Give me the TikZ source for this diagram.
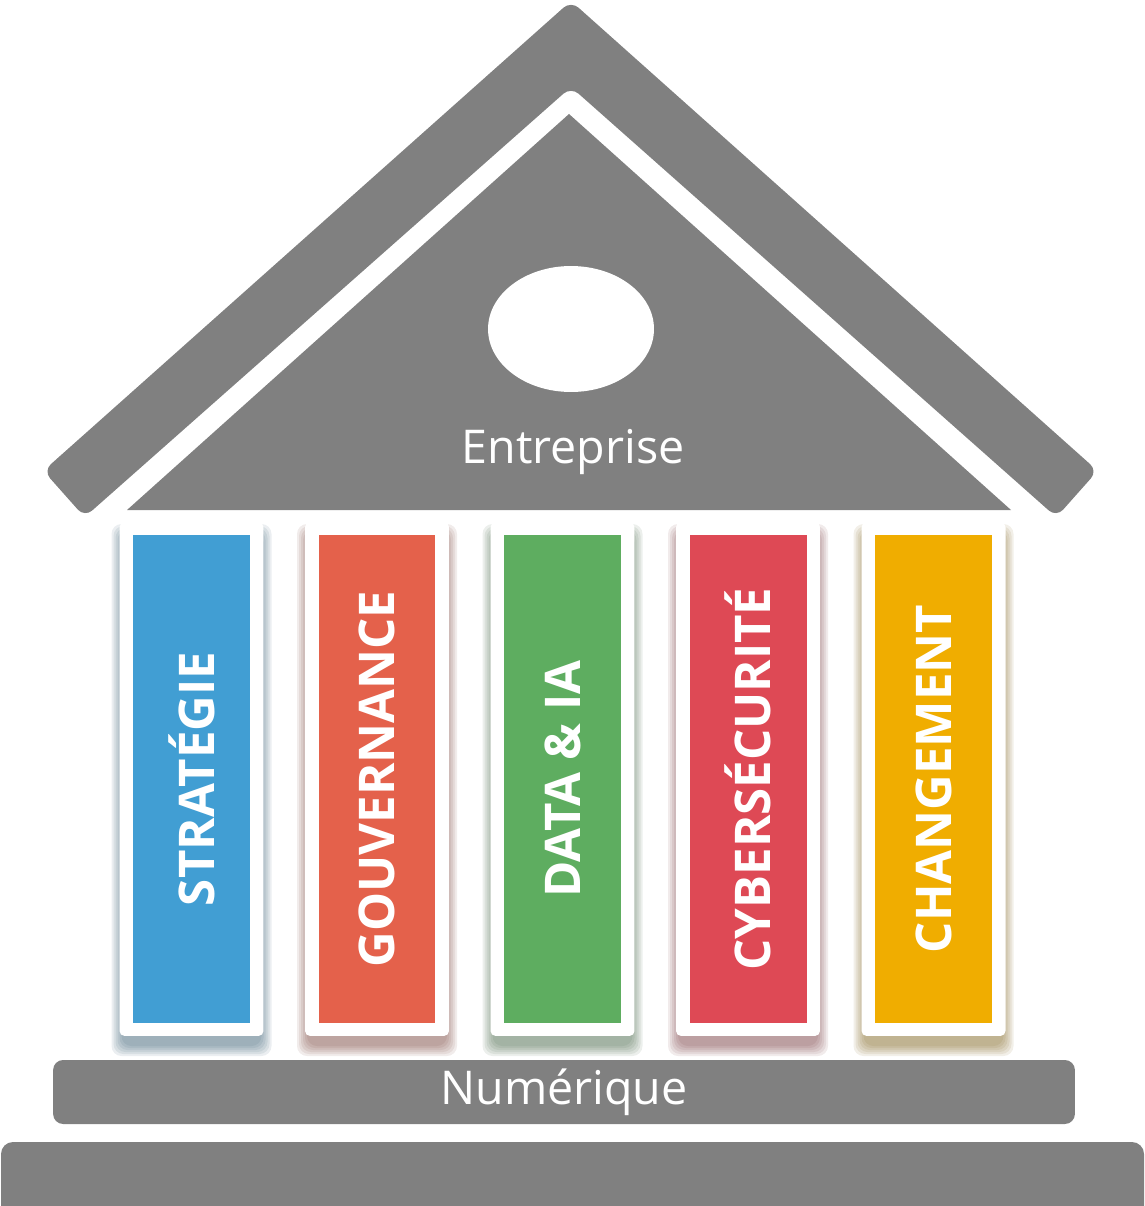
\documentclass[tikz,border=0pt]{standalone}
\usepackage{fontspec}
\setmainfont{Open Sans}
\usepackage{tikz}
\definecolor{roofGray}{RGB}{128, 128, 128}
\definecolor{pillarBlue}{RGB}{65, 158, 211}
\definecolor{pillarOrange}{RGB}{228, 97, 75}
\definecolor{pillarGreen}{RGB}{94, 173, 96}
\definecolor{pillarRed}{RGB}{222, 73, 85}
\definecolor{pillarYellow}{RGB}{240, 173, 0}

\begin{document}
\begin{tikzpicture}[x=0.02cm, y=-0.02cm,
    pillarFrame/.style={fill=white, rounded corners=0.1cm, minimum width=2.88cm, minimum height=10.28cm, inner sep=0pt},
    pillarCore/.style={minimum width=2.34cm, minimum height=9.76cm, inner sep=0pt},
    pillarText/.style={text=white, rotate=90, font=\bfseries\fontsize{28}{32}\selectfont},
    bigLabel/.style={text=white, font=\fontsize{26.5}{30}\selectfont}]
        \useasboundingbox (0,0) rectangle (1145,1206);
        % roof and pediment
        \fill[roofGray, rounded corners=0.2cm] (64,494) -- (84.6,517.2) -- (571,87) -- (1056.4,517.2) -- (1097.6,470.8) -- (571,1) -- (43.4,470.8) -- cycle;
        \fill[roofGray] (127,510) -- (569,114) -- (1011,510) -- cycle;
        \fill[white] (571,329) ellipse [x radius=1.66cm, y radius=1.26cm];
        \node[bigLabel] (entreprise) at (573,452) {Entreprise};
        % pillars
        \foreach \cx/\col/\lbl/\nm in {191.5/pillarBlue/STRATÉGIE/strategie, 377/pillarOrange/GOUVERNANCE/gouvernance, 562.5/pillarGreen/DATA \& IA/data, 748/pillarRed/CYBERSÉCURITÉ/cyber, 933.5/pillarYellow/CHANGEMENT/changement} {
            \foreach \e in {0,2,...,10}
                \fill[\col!45!black, opacity=0.09, rounded corners=0.2cm] (\cx-70-\e,534-\e) rectangle (\cx+70+\e,1046+\e);
            \node[pillarFrame] (frame-\nm) at (\cx,779) {};
            \node[pillarCore, fill=\col] (\nm) at (\cx,779) {};
            \node[pillarText] (\nm-text) at (\nm) {\lbl};
        }
        % base
        \node[fill=roofGray, rounded corners=0.2cm, minimum width=20.44cm, minimum height=1.28cm, inner sep=0pt, bigLabel] (numerique) at (564,1092) {Numérique};
        \fill[roofGray, rounded corners=0.24cm] (1,1142) rectangle (1144,1230);
      \end{tikzpicture}
\end{document}
